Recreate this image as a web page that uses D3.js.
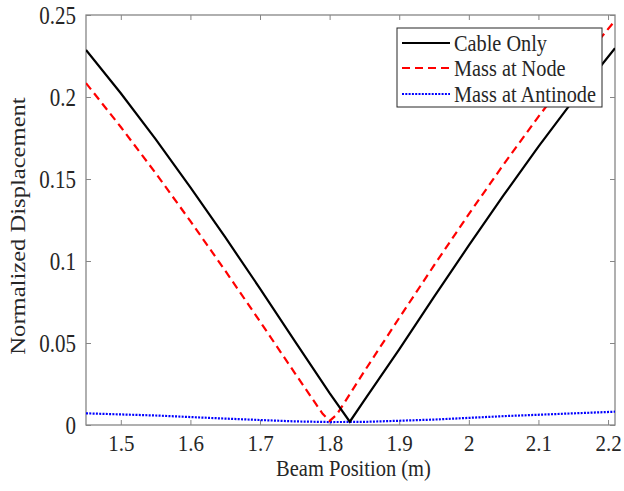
<!DOCTYPE html>
<html>
<head>
<meta charset="utf-8">
<script src="https://cdn.jsdelivr.net/npm/d3@7"></script>
<style>
  html, body { margin: 0; padding: 0; background: #fff; }
  svg { display: block; }
  text { font-family: "Liberation Serif", "Times New Roman", serif; fill: #262626; }
</style>
</head>
<body>
<svg id="chart" width="624" height="491"></svg>
<script>
// ---- data ----
const cableX = [1.45, 1.50, 1.55, 1.60, 1.65, 1.70, 1.75, 1.80, 1.829, 1.85, 1.90, 1.95, 2.00, 2.05, 2.10, 2.15, 2.21];
const cableY = [0.2287, 0.2023, 0.1743, 0.1449, 0.1145, 0.0832, 0.0512, 0.0195, 0.002, 0.0152, 0.0461, 0.0781, 0.1095, 0.1401, 0.1697, 0.1979, 0.2298];

const nodeX = [1.45, 1.50, 1.55, 1.60, 1.65, 1.70, 1.75, 1.78, 1.79, 1.80, 1.81, 1.82, 1.85, 1.90, 1.95, 2.00, 2.05, 2.10, 2.15, 2.21];
const nodeY = [0.2085, 0.1817, 0.1536, 0.1243, 0.0941, 0.0631, 0.0317, 0.0130, 0.0068, 0.0025, 0.0062, 0.0128, 0.0328, 0.0653, 0.0973, 0.1286, 0.1589, 0.1880, 0.2156, 0.2466];

const antiX = [1.45, 1.55, 1.65, 1.75, 1.80, 1.85, 1.95, 2.05, 2.15, 2.21];
const antiY = [0.0071, 0.0058, 0.0039, 0.0022, 0.0018, 0.0019, 0.0033, 0.0054, 0.0071, 0.0081];

const seriesNames = ["Cable Only", "Mass at Node", "Mass at Antinode"];
const xTicks = [1.5, 1.6, 1.7, 1.8, 1.9, 2.0, 2.1, 2.2];
const xTickLabels = ["1.5", "1.6", "1.7", "1.8", "1.9", "2", "2.1", "2.2"];
const yTicks = [0, 0.05, 0.1, 0.15, 0.2, 0.25];
const yTickLabels = ["0", "0.05", "0.1", "0.15", "0.2", "0.25"];
const xDomain = [1.45, 2.21];
const yDomain = [0, 0.25];
const xTitle = "Beam Position (m)";
const yTitle = "Normalized Displacement";

// ---- layout ----
const svg = d3.select("#chart");
const L = 86, R = 615, T = 15, B = 425;
const SY = 1.15;   // vertical stretch of the reference's text
const SYB = 1.1;   // slightly less for the bottom texts
const x = d3.scaleLinear().domain(xDomain).range([L, R]);
const y = d3.scaleLinear().domain(yDomain).range([B, T]);
const axisColor = "#868686";
const tickLen = 5;

svg.append("defs").append("clipPath").attr("id", "clip")
  .append("rect").attr("x", L).attr("y", T).attr("width", R - L).attr("height", B - T);

function styleAxis(g) {
  g.selectAll(".domain").remove();
  g.selectAll(".tick line").attr("stroke", axisColor).attr("stroke-width", 1);
  g.selectAll(".tick text").style("font-size", "21px").attr("fill", "#262626");
}
// bottom
svg.append("g").attr("transform", `translate(0,${B})`)
  .call(d3.axisBottom(x).tickValues(xTicks).tickFormat((d, i) => xTickLabels[i]).tickSizeInner(-tickLen).tickSizeOuter(0))
  .call(styleAxis)
  .call(g => g.selectAll(".tick text").attr("dy", null).attr("y", 26 / SYB).attr("transform", `scale(1,${SYB})`));
// top
svg.append("g").attr("transform", `translate(0,${T})`)
  .call(d3.axisTop(x).tickValues(xTicks).tickFormat("").tickSizeInner(-tickLen).tickSizeOuter(0))
  .call(styleAxis);
// left
svg.append("g").attr("transform", `translate(${L},0)`)
  .call(d3.axisLeft(y).tickValues(yTicks).tickFormat((d, i) => yTickLabels[i]).tickSizeInner(-tickLen).tickSizeOuter(0).tickPadding(10))
  .call(styleAxis)
  .call(g => g.selectAll(".tick text").attr("dy", "0.34em").attr("transform", `scale(1,${SY})`));
// right
svg.append("g").attr("transform", `translate(${R},0)`)
  .call(d3.axisRight(y).tickValues(yTicks).tickFormat("").tickSizeInner(-tickLen).tickSizeOuter(0))
  .call(styleAxis);

// box
svg.append("rect").attr("x", L).attr("y", T).attr("width", R - L).attr("height", B - T)
  .attr("fill", "none").attr("stroke", axisColor).attr("stroke-width", 1.3);

// lines
const line = d3.line().x(d => x(d[0])).y(d => y(d[1]));
const styles = [
  { color: "#000000", dash: null, width: 2.2 },
  { color: "#ff0000", dash: "8,5", width: 2.2 },
  { color: "#0000ff", dash: "2,1.3", width: 2.2 }
];
const data = [
  d3.zip(cableX, cableY),
  d3.zip(nodeX, nodeY),
  d3.zip(antiX, antiY)
];
const plot = svg.append("g").attr("clip-path", "url(#clip)");
[2, 1, 0].forEach(i => {
  plot.append("path").datum(data[i]).attr("d", line)
    .attr("fill", "none").attr("stroke", styles[i].color)
    .attr("stroke-width", styles[i].width)
    .attr("stroke-dasharray", styles[i].dash);
});

// axis titles
svg.append("text").attr("transform", `translate(${(L + R) / 2 + 3},476) scale(1,${SYB})`)
  .attr("text-anchor", "middle").style("font-size", "20.5px").text(xTitle);
svg.append("text").attr("transform", `translate(25,226) rotate(-90) scale(${SY + 0.05},1)`)
  .attr("text-anchor", "middle").style("font-size", "20.5px").text(yTitle);

// legend
const lg = svg.append("g");
lg.append("rect").attr("x", 397).attr("y", 28).attr("width", 205).attr("height", 79)
  .attr("fill", "#fff").attr("stroke", "#262626").attr("stroke-width", 1);
const rowY = [43, 68, 94];
seriesNames.forEach((name, i) => {
  lg.append("line").attr("x1", 402).attr("x2", 450).attr("y1", rowY[i]).attr("y2", rowY[i])
    .attr("stroke", styles[i].color).attr("stroke-width", styles[i].width)
    .attr("stroke-dasharray", styles[i].dash);
  lg.append("text").attr("transform", `translate(454,${rowY[i] + 7.5}) scale(1,${SY})`)
    .style("font-size", "20.3px").text(name);
});
</script>
</body>
</html>
